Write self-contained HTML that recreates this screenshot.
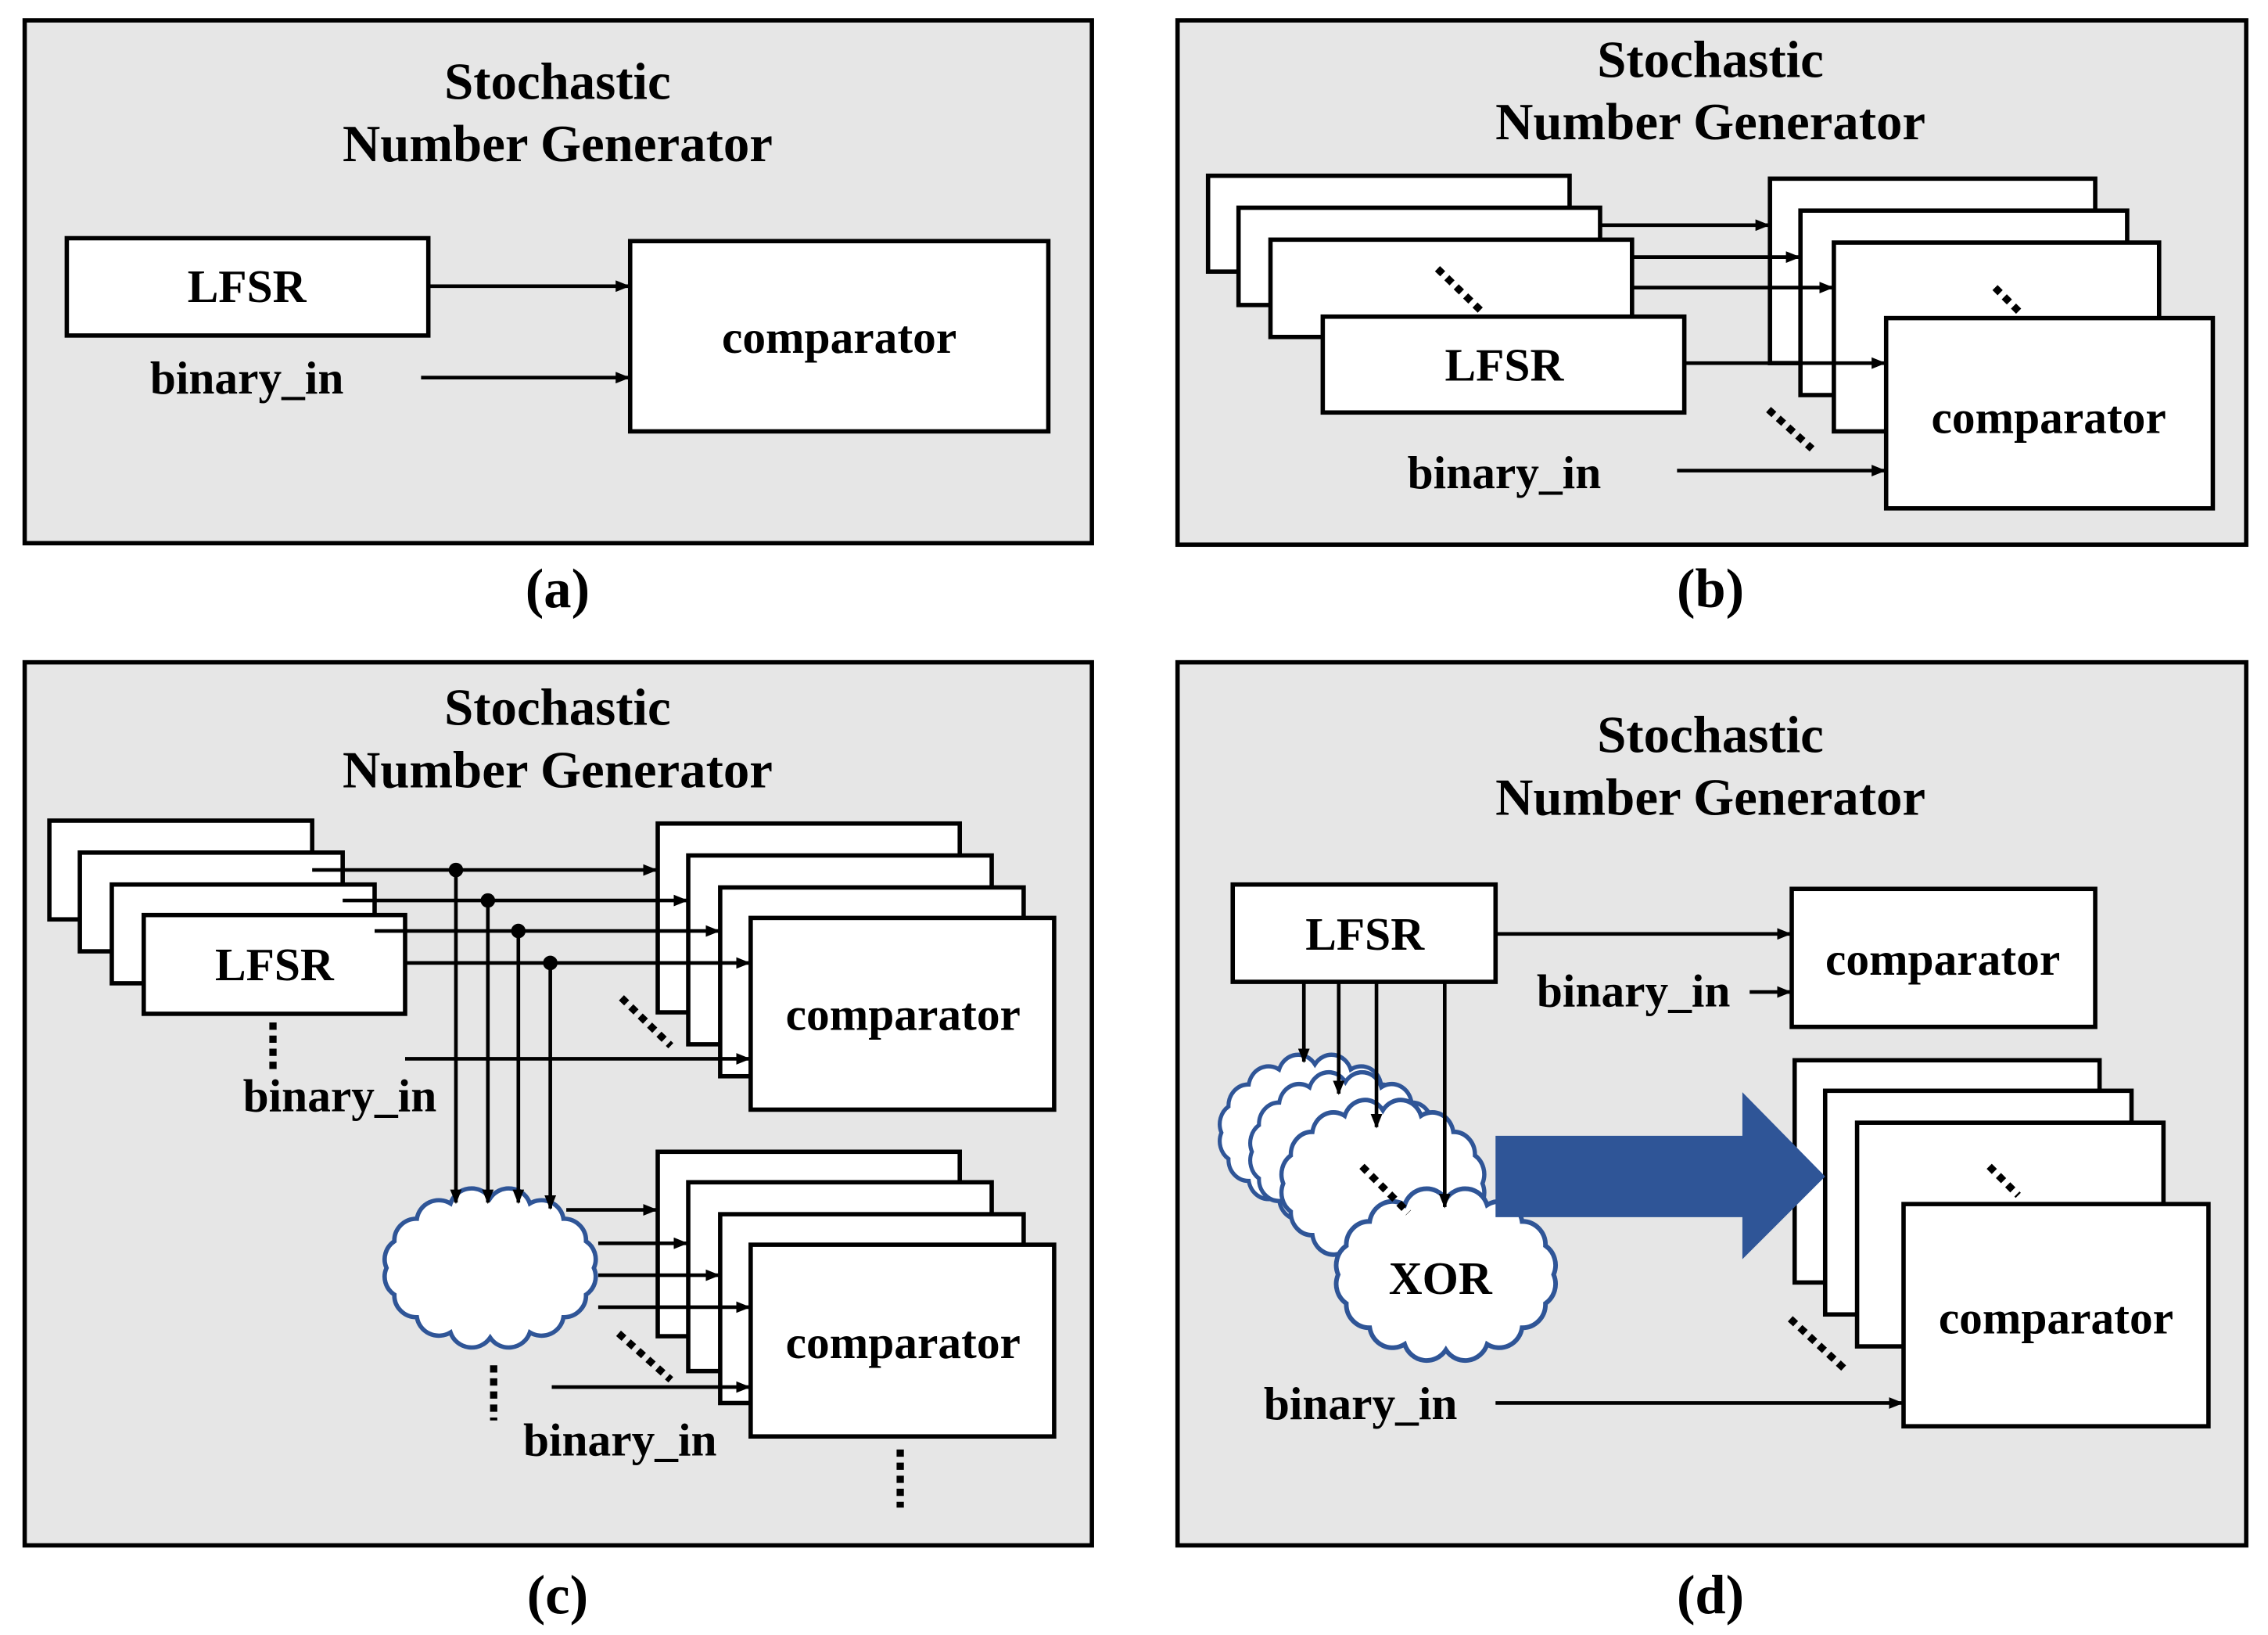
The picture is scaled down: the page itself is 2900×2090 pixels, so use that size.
<!DOCTYPE html>
<html><head><meta charset="utf-8">
<style>
html,body{margin:0;padding:0;background:#fff;}
svg{display:block;}
text{font-family:"Liberation Serif",serif;font-weight:bold;fill:#000;}
</style></head><body>
<svg width="2900" height="2090" viewBox="0 0 1562 1125.7" xmlns="http://www.w3.org/2000/svg">
<defs>
<marker id="ar" markerWidth="10" markerHeight="8" refX="9" refY="4" orient="auto" markerUnits="userSpaceOnUse">
<path d="M0,0 L10,4 L0,8 Z" fill="#000"/></marker>
<path id="cloud" d="M150,57 A15,15 0 0 1 144.7,75.4 A15,15 0 0 1 129.5,90.9 A15,15 0 0 1 106.8,101.4 A15,15 0 0 1 80,105 A15,15 0 0 1 53.2,101.4 A15,15 0 0 1 30.5,90.9 A15,15 0 0 1 15.3,75.4 A15,15 0 0 1 10,57 A15,15 0 0 1 15.3,38.6 A15,15 0 0 1 30.5,23.1 A15,15 0 0 1 53.2,12.6 A15,15 0 0 1 80,9 A15,15 0 0 1 106.8,12.6 A15,15 0 0 1 129.5,23.1 A15,15 0 0 1 144.7,38.6 A15,15 0 0 1 150,57 Z"/>
</defs>
<g stroke="#000" stroke-width="3" fill="#e6e6e6">
<rect x="17" y="14" width="735" height="360"/>
<rect x="811" y="14" width="736" height="361"/>
<rect x="17" y="456" width="735" height="608"/>
<rect x="811" y="456" width="736" height="608"/>
</g>
<g font-size="36" text-anchor="middle">
<text x="384" y="68">Stochastic</text><text x="384" y="111">Number Generator</text>
<text x="1178" y="53">Stochastic</text><text x="1178" y="96">Number Generator</text>
<text x="384" y="499">Stochastic</text><text x="384" y="542">Number Generator</text>
<text x="1178" y="518">Stochastic</text><text x="1178" y="561">Number Generator</text>
<text x="384" y="418" font-size="38">(a)</text>
<text x="1178" y="418" font-size="38">(b)</text>
<text x="384" y="1111" font-size="38">(c)</text>
<text x="1178" y="1111" font-size="38">(d)</text>
</g>
<g stroke="#000" stroke-width="3" fill="#fff">
<rect x="46" y="164" width="249" height="67"/>
<rect x="434" y="166" width="288" height="131"/>
<rect x="832" y="121" width="249" height="66"/>
<rect x="853" y="143" width="249" height="67"/>
<rect x="875" y="165" width="249" height="67"/>
<rect x="911" y="218" width="249" height="66"/>
<rect x="1219" y="123" width="224" height="127"/>
<rect x="1240" y="145" width="225" height="127"/>
<rect x="1263" y="167" width="224" height="130"/>
<rect x="1299" y="219" width="225" height="131"/>
<rect x="34" y="565" width="181" height="68"/>
<rect x="55" y="587" width="181" height="68"/>
<rect x="77" y="609" width="181" height="68"/>
<rect x="99" y="630" width="180" height="68"/>
<rect x="453" y="567" width="208" height="130"/>
<rect x="474" y="589" width="209" height="130"/>
<rect x="496" y="611" width="209" height="130"/>
<rect x="517" y="632" width="209" height="132"/>
<rect x="453" y="793" width="208" height="127"/>
<rect x="474" y="814" width="209" height="130"/>
<rect x="496" y="836" width="209" height="130"/>
<rect x="517" y="857" width="209" height="132"/>
<rect x="849" y="609" width="181" height="67"/>
<rect x="1234" y="612" width="209" height="95"/>
<rect x="1236" y="730" width="210" height="153"/>
<rect x="1257" y="751" width="211" height="154"/>
<rect x="1279" y="773" width="211" height="154"/>
<rect x="1311" y="829" width="210" height="153"/>
</g>
<g fill="#fff" stroke="#2f5597" stroke-width="3">
<use href="#cloud" transform="translate(256,816) scale(1.02,1.0)"/>
<use href="#cloud" transform="translate(832,724) scale(0.92,0.98)"/>
<use href="#cloud" transform="translate(853,736) scale(0.92,1.0)"/>
<use href="#cloud" transform="translate(874,755) scale(0.98,1.05)"/>
<use href="#cloud" transform="translate(911,816) scale(1.06,1.08)"/>
</g>
<path d="M1030,782 L1200,782 L1200,752 L1257,810 L1200,867 L1200,838 L1030,838 Z" fill="#2f5597"/>
<g stroke="#000" stroke-width="2.5" fill="none" marker-end="url(#ar)">
<line x1="295" y1="197" x2="433" y2="197"/>
<line x1="290" y1="260" x2="433" y2="260"/>
<line x1="1102" y1="155" x2="1218" y2="155"/>
<line x1="1124" y1="177" x2="1239" y2="177"/>
<line x1="1124" y1="198" x2="1262" y2="198"/>
<line x1="1160" y1="250" x2="1298" y2="250"/>
<line x1="1155" y1="324" x2="1298" y2="324"/>
<line x1="215" y1="599" x2="452" y2="599"/>
<line x1="236" y1="620" x2="473" y2="620"/>
<line x1="258" y1="641" x2="495" y2="641"/>
<line x1="279" y1="663" x2="516" y2="663"/>
<line x1="279" y1="729" x2="516" y2="729"/>
<line x1="314" y1="599" x2="314" y2="828"/>
<line x1="336" y1="620" x2="336" y2="828"/>
<line x1="357" y1="641" x2="357" y2="828"/>
<line x1="379" y1="663" x2="379" y2="832"/>
<line x1="390" y1="833" x2="452" y2="833"/>
<line x1="412" y1="856" x2="473" y2="856"/>
<line x1="412" y1="878" x2="495" y2="878"/>
<line x1="412" y1="900" x2="516" y2="900"/>
<line x1="380" y1="955" x2="516" y2="955"/>
<line x1="1030" y1="643" x2="1233" y2="643"/>
<line x1="1205" y1="683" x2="1233" y2="683"/>
<line x1="1030" y1="966" x2="1310" y2="966"/>
<line x1="898" y1="676" x2="898" y2="731"/>
<line x1="922" y1="676" x2="922" y2="753"/>
<line x1="948" y1="676" x2="948" y2="776"/>
<line x1="995" y1="676" x2="995" y2="831"/>
</g>
<g fill="#000">
<circle cx="314" cy="599" r="5"/><circle cx="336" cy="620" r="5"/>
<circle cx="357" cy="641" r="5"/><circle cx="379" cy="663" r="5"/>
</g>
<g stroke="#000" stroke-width="5" stroke-dasharray="5,4" fill="none">
<line x1="990" y1="185" x2="1020" y2="214"/>
<line x1="1218" y1="282" x2="1248" y2="309"/>
<line x1="1374" y1="198" x2="1392" y2="216"/>
<line x1="188" y1="704" x2="188" y2="736"/>
<line x1="428" y1="687" x2="462" y2="720"/>
<line x1="426" y1="918" x2="462" y2="950"/>
<line x1="340" y1="940" x2="340" y2="978"/>
<line x1="620" y1="998" x2="620" y2="1038"/>
<line x1="938" y1="803" x2="970" y2="835"/>
<line x1="1370" y1="803" x2="1390" y2="823"/>
<line x1="1233" y1="908" x2="1272" y2="944"/>
</g>
<g font-size="32" text-anchor="middle">
<text x="170" y="208">LFSR</text>
<text x="578" y="243">comparator</text>
<text x="170" y="271">binary_in</text>
<text x="1036" y="262">LFSR</text>
<text x="1411" y="298">comparator</text>
<text x="1036" y="336">binary_in</text>
<text x="189" y="675">LFSR</text>
<text x="622" y="709">comparator</text>
<text x="234" y="765">binary_in</text>
<text x="622" y="935">comparator</text>
<text x="427" y="1002">binary_in</text>
<text x="940" y="654">LFSR</text>
<text x="1338" y="671">comparator</text>
<text x="1125" y="693">binary_in</text>
<text x="1416" y="918">comparator</text>
<text x="937" y="977">binary_in</text>
<text x="992" y="891">XOR</text>
</g>
</svg>
</body></html>
